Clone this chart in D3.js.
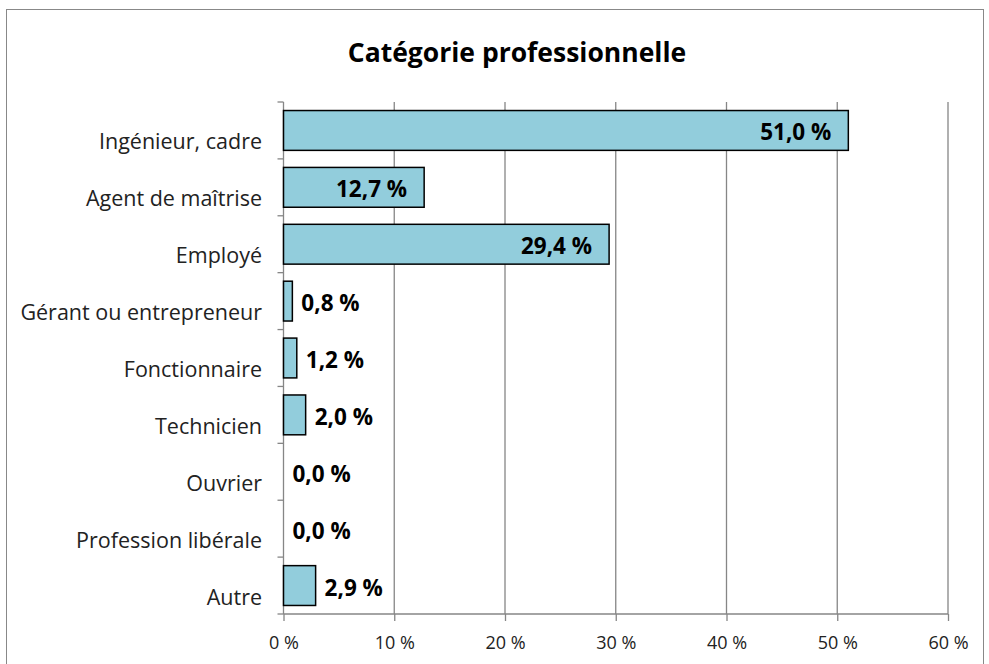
<!DOCTYPE html>
<html>
<head>
<meta charset="utf-8">
<script src="https://cdn.jsdelivr.net/npm/d3@7"></script>
<style>
  body { margin: 0; background: #fff; }
  svg text { font-family: "Open Sans", sans-serif; }
</style>
</head>
<body>
<div id="main"></div>
<script>
'use strict'

const categories = ["Ingénieur, cadre", "Agent de maîtrise", "Employé", "Gérant ou entrepreneur",
  "Fonctionnaire", "Technicien", "Ouvrier", "Profession libérale", "Autre"];
const values = [51.0, 12.7, 29.4, 0.8, 1.2, 2.0, 0.0, 0.0, 2.9];
const xTicks = [0, 10, 20, 30, 40, 50, 60];

const svgWidth = 989, svgHeight = 664;
const plotLeft = 283.5, plotRight = 948, plotTop = 102, plotBottom = 614;

const svg = d3.select('#main').append('svg')
  .attr('width', svgWidth)
  .attr('height', svgHeight);

// outer frame
svg.append('rect')
  .attr('x', 6.5).attr('y', 9.5)
  .attr('width', 977).attr('height', 670)
  .attr('fill', 'none').attr('stroke', '#888');

svg.append('text')
  .text('Catégorie professionnelle')
  .attr('x', 517).attr('y', 62)
  .attr('text-anchor', 'middle')
  .attr('font-size', 26.5).attr('font-weight', 'bold')
  .attr('fill', '#000');

const xScale = d3.scaleLinear().domain([0, 60]).range([plotLeft, plotRight]);
const yScale = d3.scaleBand().domain(categories).range([plotTop, plotBottom]).paddingInner(0.3).paddingOuter(0.15);

// gridlines
svg.append('g').selectAll('line')
  .data(xTicks.slice(1))
  .enter().append('line')
  .attr('x1', d => xScale(d)).attr('x2', d => xScale(d))
  .attr('y1', plotTop).attr('y2', plotBottom)
  .attr('stroke', '#868686').attr('stroke-width', 1.3);

// x axis
const xAxis = d3.axisBottom(xScale).tickValues(xTicks).tickSize(7)
  .tickFormat(d => d + ' %');
const gx = svg.append('g').attr('transform', 'translate(0,' + plotBottom + ')').call(xAxis);
gx.attr('font-size', 18).attr('font-family', '"Open Sans", sans-serif');
gx.select('.domain').attr('stroke', '#868686').attr('stroke-width', 1.3).attr('d', 'M' + plotLeft + ',0H' + plotRight);
gx.selectAll('.tick line').attr('stroke', '#868686').attr('stroke-width', 1.3);
gx.selectAll('text')
  .attr('y', 35).attr('dy', null)
  .style('font-size', '18px').attr('fill', '#222');

// y axis with ticks at band boundaries
const boundaries = d3.range(categories.length + 1).map(i => plotTop + i * (plotBottom - plotTop) / categories.length);
svg.append('line')
  .attr('x1', plotLeft).attr('x2', plotLeft).attr('y1', plotTop).attr('y2', plotBottom)
  .attr('stroke', '#868686').attr('stroke-width', 1.3);
svg.append('g').selectAll('line')
  .data(boundaries)
  .enter().append('line')
  .attr('x1', plotLeft - 6).attr('x2', plotLeft)
  .attr('y1', d => d).attr('y2', d => d)
  .attr('stroke', '#868686').attr('stroke-width', 1.3);

svg.append('g').selectAll('text')
  .data(categories)
  .enter().append('text')
  .text(d => d)
  .attr('x', 262)
  .attr('y', d => yScale(d) + yScale.bandwidth() / 2 + 19)
  .attr('text-anchor', 'end')
  .attr('font-size', 21.5)
  .attr('fill', '#222');

// bars
const data = categories.map((c, i) => ({ cat: c, val: values[i] }));
svg.append('g').selectAll('rect')
  .data(data.filter(d => d.val > 0))
  .enter().append('rect')
  .attr('x', xScale(0))
  .attr('y', d => yScale(d.cat))
  .attr('width', d => xScale(d.val) - xScale(0))
  .attr('height', yScale.bandwidth())
  .attr('fill', '#92CDDC')
  .attr('stroke', '#000')
  .attr('stroke-width', 1.5);

// value labels
const fmt = v => v.toFixed(1).replace('.', ',') + ' %';
svg.append('g').selectAll('text')
  .data(data)
  .enter().append('text')
  .text(d => fmt(d.val))
  .attr('x', d => d.val > 10 ? xScale(d.val) - 17 : xScale(d.val) + 9)
  .attr('y', d => yScale(d.cat) + yScale.bandwidth() / 2 + 10)
  .attr('text-anchor', d => d.val > 10 ? 'end' : 'start')
  .attr('font-size', 22.5)
  .attr('font-weight', 'bold')
  .attr('fill', '#000');
</script>
</body>
</html>
